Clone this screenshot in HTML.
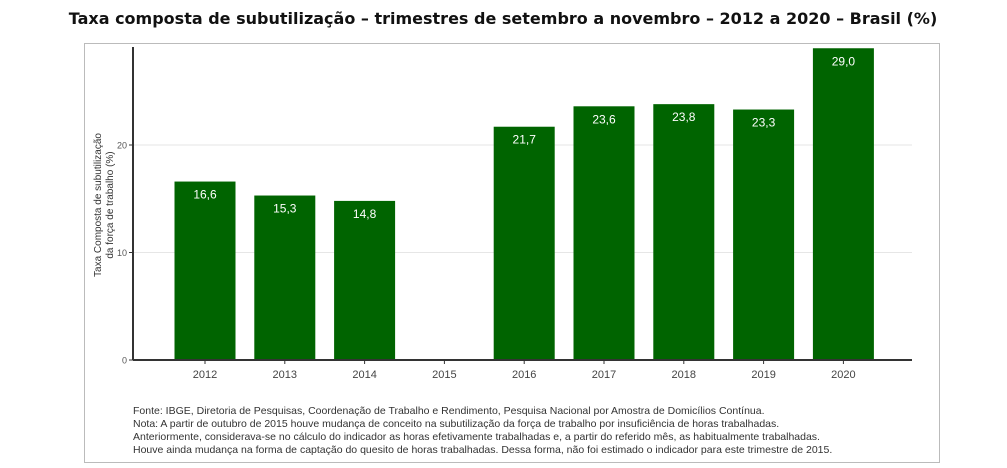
<!DOCTYPE html>
<html><head><meta charset="utf-8"><style>
body{margin:0;width:1007px;height:468px;background:#fff;overflow:hidden;font-family:"Liberation Sans",sans-serif}
svg{position:absolute;left:0;top:0}
</style></head><body>
<svg width="1007" height="468">
<text x="503" y="24" text-anchor="middle" font-family="DejaVu Sans, sans-serif" font-weight="bold" font-size="16" fill="#111">Taxa composta de subutilização – trimestres de setembro a novembro – 2012 a 2020 – Brasil (%)</text>
<rect x="84.5" y="43.5" width="855" height="419" fill="#fff" stroke="#bbb"/>
<g id="grid"></g>
<g id="bars"></g>
<line x1="133" y1="47" x2="133" y2="360" stroke="#333" stroke-width="2"/>
<line x1="133" y1="360" x2="912" y2="360" stroke="#333" stroke-width="2"/>
<text transform="translate(101,205) rotate(-90)" text-anchor="middle" font-size="10" fill="#333"><tspan x="0" dy="0">Taxa Composta de subutilização</tspan><tspan x="0" dy="12">da força de trabalho (%)</tspan></text>
<g font-size="10.5" fill="#333">
<text x="133" y="414">Fonte: IBGE, Diretoria de Pesquisas, Coordenação de Trabalho e Rendimento, Pesquisa Nacional por Amostra de Domicílios Contínua.</text>
<text x="133" y="427">Nota: A partir de outubro de 2015 houve mudança de conceito na subutilização da força de trabalho por insuficiência de horas trabalhadas.</text>
<text x="133" y="440">Anteriormente, considerava-se no cálculo do indicador as horas efetivamente trabalhadas e, a partir do referido mês, as habitualmente trabalhadas.</text>
<text x="133" y="453">Houve ainda mudança na forma de captação do quesito de horas trabalhadas. Dessa forma, não foi estimado o indicador para este trimestre de 2015.</text>
</g>
</svg>
<script>
const categories=["2012","2013","2014","2015","2016","2017","2018","2019","2020"];
const values=[16.6,15.3,14.8,null,21.7,23.6,23.8,23.3,29.0];
const labels=["16,6","15,3","14,8","","21,7","23,6","23,8","23,3","29,0"];
const yTicks=[0,10,20];
const NS="http://www.w3.org/2000/svg";
const y=v=>360-v*10.75;
const x=i=>205+i*79.8;
const bw=61;
function mk(t,a,p){const e=document.createElementNS(NS,t);for(const k in a)e.setAttribute(k,a[k]);p.appendChild(e);return e;}
const svg=document.querySelector('svg');
const grid=document.getElementById('grid'),bars=document.getElementById('bars');
yTicks.forEach(t=>{
 if(t>0){const l=mk('line',{x1:133,x2:912,y1:y(t),y2:y(t),stroke:'#e6e6e6'},grid);
 
 }
 const tk=mk('line',{x1:129,x2:133,y1:y(t),y2:y(t),stroke:'#333'},svg);
 
 
 const tx=mk('text',{x:127,y:y(t)+3.5,'text-anchor':'end','font-size':'9',fill:'#555'},svg);
 tx.textContent=t;
 
 
});
categories.forEach((c,i)=>{
 const tk=mk('line',{x1:x(i),x2:x(i),y1:360,y2:364,stroke:'#333'},svg);
 
 
 const tx=mk('text',{x:x(i),y:378,'text-anchor':'middle','font-size':'11',fill:'#444'},svg);
 tx.textContent=c;
 
 
 const v=values[i];
 if(v==null)return;
 const r=mk('rect',{x:x(i)-bw/2,y:y(v),width:bw,height:360-y(v),fill:'#006400'},bars);
 
 
 const lt=mk('text',{x:x(i),y:y(v)+17,'text-anchor':'middle','font-size':'12',fill:'#fff'},bars);
 lt.textContent=labels[i];
 
 
});
</script>
</body></html>
